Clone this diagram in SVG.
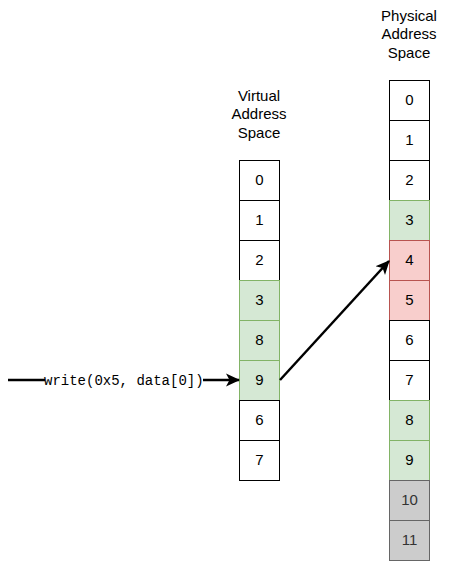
<svg xmlns="http://www.w3.org/2000/svg" width="460" height="561" viewBox="0 0 460 561">
<style>
.w{fill:#ffffff;stroke:#000000}
.g{fill:#d5e8d4;stroke:#82b366}
.r{fill:#f8cecc;stroke:#b85450}
.k{fill:#cccccc;stroke:#666666}
.t{font-family:"Liberation Sans",Arial,sans-serif;font-size:15px;text-anchor:middle;fill:#000000}
.tk{fill:#333333}
.lbl{font-family:"Liberation Sans",Arial,sans-serif;font-size:15px;text-anchor:middle;fill:#000000}
.mono{font-family:"Liberation Mono","Courier New",monospace;font-size:14px;fill:#000000}
.e{stroke:#000000;stroke-width:2.5;fill:none}
</style>
<defs>
<marker id="ah" markerWidth="14" markerHeight="14" refX="13" refY="7" orient="auto" markerUnits="userSpaceOnUse">
<path d="M0,0.5 L14,7 L0,13.5 L3.5,7 Z" fill="#000000"/>
</marker>
</defs>
<rect width="460" height="561" fill="#ffffff"/>
<g id="virtual-label">
<text class="lbl" x="259" y="101">Virtual</text>
<text class="lbl" x="259" y="119">Address</text>
<text class="lbl" x="259" y="138">Space</text>
</g>
<g id="physical-label">
<text class="lbl" x="409" y="21">Physical</text>
<text class="lbl" x="409" y="39">Address</text>
<text class="lbl" x="409" y="58">Space</text>
</g>
<g id="virtual">
<g id="v0"><rect class="w" x="239.5" y="160.5" width="40" height="40"/><text class="t" x="259.5" y="185">0</text></g>
<g id="v1"><rect class="w" x="239.5" y="200.5" width="40" height="40"/><text class="t" x="259.5" y="225">1</text></g>
<g id="v2"><rect class="w" x="239.5" y="240.5" width="40" height="40"/><text class="t" x="259.5" y="265">2</text></g>
<g id="v3"><rect class="g" x="239.5" y="280.5" width="40" height="40"/><text class="t" x="259.5" y="305">3</text></g>
<g id="v8"><rect class="g" x="239.5" y="320.5" width="40" height="40"/><text class="t" x="259.5" y="345">8</text></g>
<g id="v9"><rect class="g" x="239.5" y="360.5" width="40" height="40"/><text class="t" x="259.5" y="385">9</text></g>
<g id="v6"><rect class="w" x="239.5" y="400.5" width="40" height="40"/><text class="t" x="259.5" y="425">6</text></g>
<g id="v7"><rect class="w" x="239.5" y="440.5" width="40" height="40"/><text class="t" x="259.5" y="465">7</text></g>
</g>
<g id="physical">
<g id="p0"><rect class="w" x="389.5" y="80.5" width="40" height="40"/><text class="t" x="409.5" y="105">0</text></g>
<g id="p1"><rect class="w" x="389.5" y="120.5" width="40" height="40"/><text class="t" x="409.5" y="145">1</text></g>
<g id="p2"><rect class="w" x="389.5" y="160.5" width="40" height="40"/><text class="t" x="409.5" y="185">2</text></g>
<g id="p3"><rect class="g" x="389.5" y="200.5" width="40" height="40"/><text class="t" x="409.5" y="225">3</text></g>
<g id="p4"><rect class="r" x="389.5" y="240.5" width="40" height="40"/><text class="t" x="409.5" y="265">4</text></g>
<g id="p5"><rect class="r" x="389.5" y="280.5" width="40" height="40"/><text class="t" x="409.5" y="305">5</text></g>
<g id="p6"><rect class="w" x="389.5" y="320.5" width="40" height="40"/><text class="t" x="409.5" y="345">6</text></g>
<g id="p7"><rect class="w" x="389.5" y="360.5" width="40" height="40"/><text class="t" x="409.5" y="385">7</text></g>
<g id="p8"><rect class="g" x="389.5" y="400.5" width="40" height="40"/><text class="t" x="409.5" y="425">8</text></g>
<g id="p9"><rect class="g" x="389.5" y="440.5" width="40" height="40"/><text class="t" x="409.5" y="465">9</text></g>
<g id="p10"><rect class="k" x="389.5" y="480.5" width="40" height="40"/><text class="t tk" x="409.5" y="505">10</text></g>
<g id="p11"><rect class="k" x="389.5" y="520.5" width="40" height="40"/><text class="t tk" x="409.5" y="545">11</text></g>
</g>
<g id="connectors">
<line class="e" x1="8" y1="380" x2="45" y2="380"/>
<line class="e" x1="203" y1="380" x2="239" y2="380" marker-end="url(#ah)"/>
<text class="mono" x="44" y="385">write(0x5, data[0])</text>
<line class="e" x1="280" y1="380" x2="389" y2="261" marker-end="url(#ah)"/>
</g>
</svg>
